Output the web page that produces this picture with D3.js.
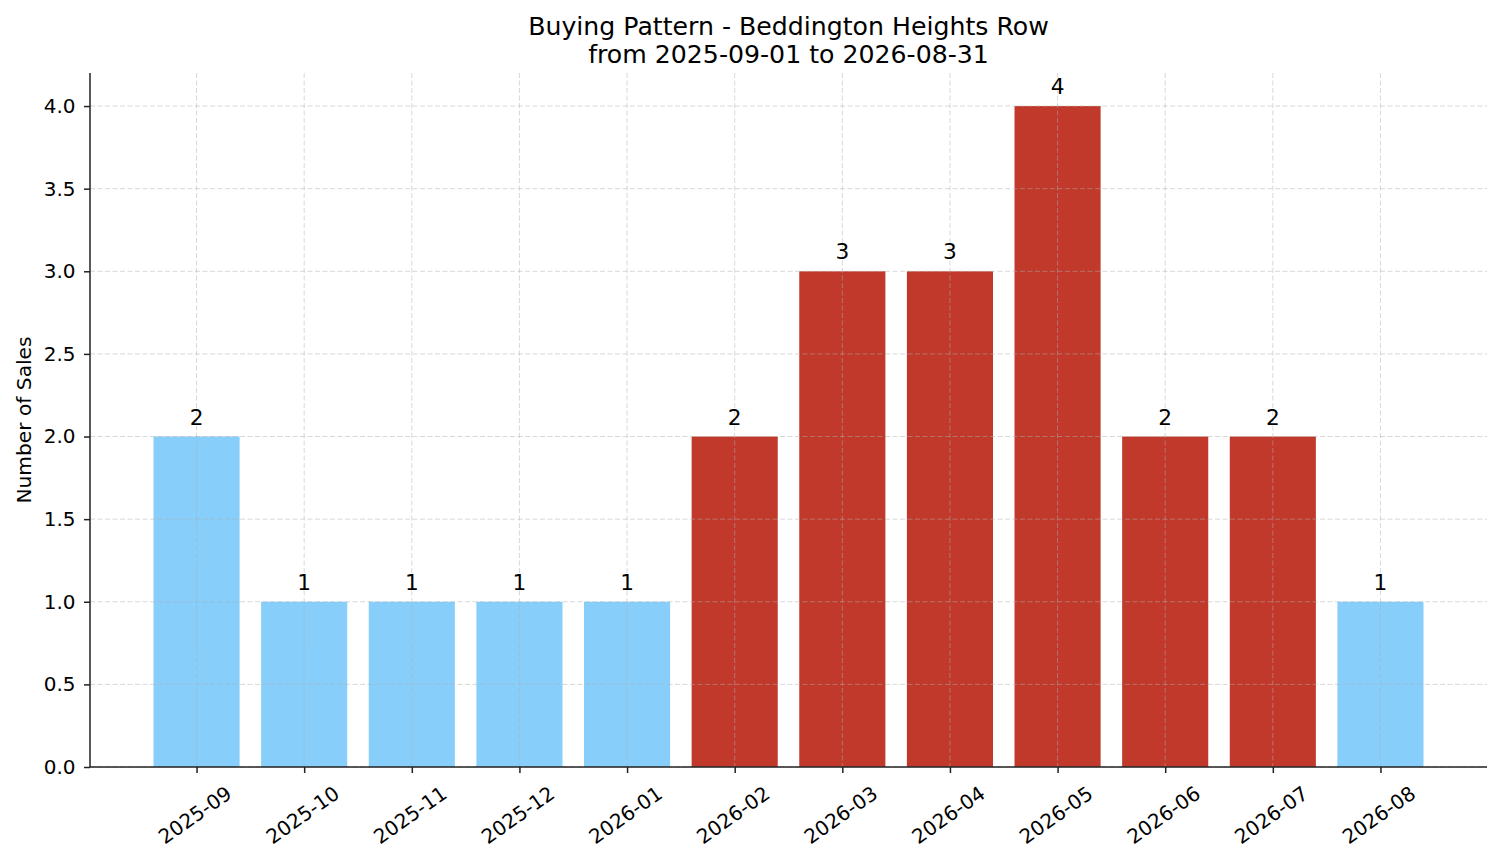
<!DOCTYPE html>
<html>
<head>
<meta charset="utf-8">
<script src="https://cdn.jsdelivr.net/npm/d3@7"></script>
<style>
  body { margin: 0; background: #fff; }
  text { font-family: "DejaVu Sans", sans-serif; fill: #000; }
</style>
</head>
<body>
<div id="chart"></div>
<script>
// months on the x axis
var months = ["2025-09","2025-10","2025-11","2025-12","2026-01","2026-02",
              "2026-03","2026-04","2026-05","2026-06","2026-07","2026-08"];
// number of sales per month
var sales = [2, 1, 1, 1, 1, 2, 3, 3, 4, 2, 2, 1];
// months drawn highlighted (red)
var highlighted = ["2026-02","2026-03","2026-04","2026-05","2026-06","2026-07"];
var yTicks = [0, 0.5, 1, 1.5, 2, 2.5, 3, 3.5, 4];

var width = 1501, height = 863;
var margin = {left: 90, right: 14, top: 73, bottom: 96};
var plotW = width - margin.left - margin.right;
var plotH = height - margin.top - margin.bottom;

var data = months.map(function(m, i) {
    return {month: m, value: sales[i], hot: highlighted.indexOf(m) >= 0};
});

var svg = d3.select("#chart").append("svg")
    .attr("width", width)
    .attr("height", height);

var g = svg.append("g")
    .attr("transform", "translate(" + margin.left + "," + margin.top + ")");

// matplotlib style: bars 0.8 wide, 5% margin on each side
var x = d3.scaleLinear()
    .domain([-0.4 - 0.59, months.length - 1 + 0.4 + 0.59])
    .range([0, plotW]);
var y = d3.scaleLinear()
    .domain([0, d3.max(sales) * 1.05])
    .range([plotH, 0]);

// bars
g.selectAll(".bar")
    .data(data)
    .enter().append("rect")
    .attr("class", "bar")
    .attr("x", function(d, i) { return x(i - 0.4); })
    .attr("width", x(0.4) - x(-0.4))
    .attr("y", function(d) { return y(d.value); })
    .attr("height", function(d) { return plotH - y(d.value); })
    .style("fill", function(d) { return d.hot ? "#C0392B" : "#87CEFA"; });

// grid on top of bars
var grid = g.append("g").attr("class", "grid");
grid.selectAll(".hgrid")
    .data(yTicks)
    .enter().append("line")
    .attr("x1", 0).attr("x2", plotW)
    .attr("y1", function(d) { return y(d); })
    .attr("y2", function(d) { return y(d); });
grid.selectAll(".vgrid")
    .data(d3.range(months.length))
    .enter().append("line")
    .attr("y1", 0).attr("y2", plotH)
    .attr("x1", function(d) { return x(d); })
    .attr("x2", function(d) { return x(d); });
grid.selectAll("line")
    .style("stroke", "#b0b0b0")
    .style("stroke-opacity", 0.55)
    .style("stroke-width", 0.9)
    .style("stroke-dasharray", "5,2.5");

// value labels
g.selectAll(".val")
    .data(data)
    .enter().append("text")
    .attr("class", "val")
    .attr("x", function(d, i) { return x(i); })
    .attr("y", function(d) { return y(d.value) - 12; })
    .attr("text-anchor", "middle")
    .style("font-size", "21.7px")
    .text(function(d) { return d.value; });

// y axis
var yAxis = g.append("g")
    .call(d3.axisLeft(y).tickValues(yTicks).tickFormat(d3.format(".1f"))
        .tickSize(6).tickPadding(8.5));
yAxis.select(".domain").remove();
yAxis.selectAll(".tick line").style("stroke", "#222").style("stroke-width", 1.5);
yAxis.selectAll(".tick text").style("font-size", "20px");

// x axis
var xAxis = g.append("g")
    .attr("transform", "translate(0," + plotH + ")")
    .call(d3.axisBottom(x).tickValues(d3.range(months.length))
        .tickFormat(function(i) { return months[i]; })
        .tickSize(6));
xAxis.select(".domain").remove();
xAxis.selectAll(".tick line").style("stroke", "#222").style("stroke-width", 1.5);
xAxis.selectAll(".tick text")
    .style("font-size", "20px")
    .attr("y", 0)
    .attr("dy", null)
    .attr("text-anchor", "middle")
    .attr("dominant-baseline", "central")
    .attr("transform", "translate(-2,48) rotate(-35)");

// spines (left and bottom only)
g.append("line")
    .attr("x1", 0).attr("x2", 0).attr("y1", 0).attr("y2", plotH)
    .style("stroke", "#222").style("stroke-width", 1.5);
g.append("line")
    .attr("x1", 0).attr("x2", plotW).attr("y1", plotH).attr("y2", plotH)
    .style("stroke", "#222").style("stroke-width", 1.5);

// y label
svg.append("text")
    .attr("transform", "translate(31," + (margin.top + plotH / 2) + ") rotate(-90)")
    .attr("text-anchor", "middle")
    .style("font-size", "20.2px")
    .text("Number of Sales");

// title
svg.append("text")
    .attr("x", margin.left + plotW / 2)
    .attr("y", 35)
    .attr("text-anchor", "middle")
    .style("font-size", "25.2px")
    .text("Buying Pattern - Beddington Heights Row");
svg.append("text")
    .attr("x", margin.left + plotW / 2)
    .attr("y", 63)
    .attr("text-anchor", "middle")
    .style("font-size", "25.2px")
    .text("from 2025-09-01 to 2026-08-31");
</script>
</body>
</html>
